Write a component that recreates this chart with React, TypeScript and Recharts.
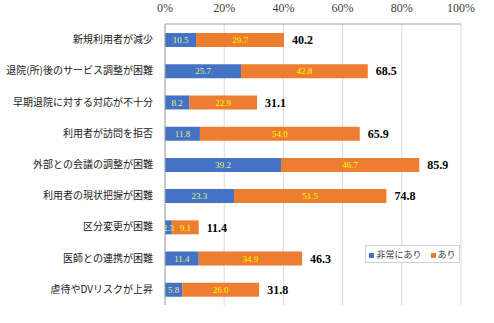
import { BarChart, Bar, XAxis, YAxis, CartesianGrid, LabelList } from "recharts";

const categories = [
  "新規利用者が減少",
  "退院(所)後のサービス調整が困難",
  "早期退院に対する対応が不十分",
  "利用者が訪問を拒否",
  "外部との会議の調整が困難",
  "利用者の現状把握が困難",
  "区分変更が困難",
  "医師との連携が困難",
  "虐待やDVリスクが上昇",
];
const veryMuch = [10.5, 25.7, 8.2, 11.8, 39.2, 23.3, 2.3, 11.4, 5.8];
const some = [29.7, 42.8, 22.9, 54.0, 46.7, 51.5, 9.1, 34.9, 26.0];
const totals = [40.2, 68.5, 31.1, 65.9, 85.9, 74.8, 11.4, 46.3, 31.8];
const ticks = [0, 20, 40, 60, 80, 100];

const data = categories.map((name, i) => ({
  name,
  veryMuch: veryMuch[i],
  some: some[i],
  total: totals[i],
}));

const BLUE = "#4472C4";
const ORANGE = "#ED7D31";
const JP = "'Noto Sans CJK JP', sans-serif";
const NUM = "'Liberation Serif', serif";

function LegendBox() {
  return (
    <div
      style={{
        position: "absolute",
        left: 365,
        top: 245,
        width: 95,
        height: 18,
        boxSizing: "border-box",
        border: "1px solid #d0d0d0",
        background: "#fff",
        fontFamily: JP,
        fontSize: 9,
        color: "#404040",
        display: "flex",
        justifyContent: "center",
        gap: 9,
        alignItems: "center",
        whiteSpace: "nowrap",
      }}
    >
      <span><span style={{ display: "inline-block", width: 5, height: 5, background: BLUE, marginRight: 2 }} />非常にあり</span>
      <span><span style={{ display: "inline-block", width: 5, height: 5, background: ORANGE, marginRight: 2 }} />あり</span>
    </div>
  );
}

export default function App() {
  return (
    <div style={{ position: "absolute", left: 0, top: 0, width: 494, height: 323, background: "#fff" }}>
      <BarChart
        width={494}
        height={323}
        data={data}
        layout="vertical"
        margin={{ top: 0, right: 33, bottom: 18, left: 0 }}
        barSize={14}
      >
        <CartesianGrid horizontal={false} stroke="#d9d9d9" />
        <XAxis
          type="number"
          orientation="top"
          domain={[0, 100]}
          ticks={ticks}
          tickFormatter={(v) => `${v}%`}
          height={24}
          axisLine={{ stroke: "#a6a6a6" }}
          tickLine={false}
          tick={{ fontSize: 12, fill: "#404040", fontFamily: NUM }}
          tickMargin={6}
        />
        <YAxis
          type="category"
          dataKey="name"
          width={165}
          axisLine={{ stroke: "#a6a6a6" }}
          tickLine={false}
          tick={{ fontSize: 10, fill: "#1a1a1a", fontFamily: JP }}
          tickMargin={6}
        />
        <Bar dataKey="veryMuch" stackId="a" fill={BLUE} isAnimationActive={false} name="非常にあり">
          <LabelList dataKey="veryMuch" position="center" fill="#e2f08a" fontSize={9} fontFamily={NUM} formatter={(v: number) => v.toFixed(1)} />
        </Bar>
        <Bar dataKey="some" stackId="a" fill={ORANGE} isAnimationActive={false} name="あり">
          <LabelList dataKey="some" position="center" fill="#ffff00" fontSize={9} fontFamily={NUM} formatter={(v: number) => v.toFixed(1)} />
          <LabelList dataKey="total" position="right" offset={8} fill="#000" fontSize={12} fontWeight="bold" fontFamily={NUM} formatter={(v: number) => v.toFixed(1)} />
        </Bar>
      </BarChart>
      <LegendBox />
    </div>
  );
}
